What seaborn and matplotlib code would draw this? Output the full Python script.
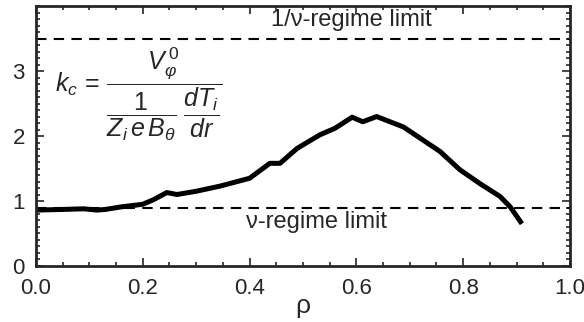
import numpy as np
import pandas as pd
import seaborn as sns
import matplotlib.pyplot as plt
from matplotlib.ticker import MultipleLocator, FormatStrFormatter

# curve
rho = [0.0, 0.05, 0.09, 0.114, 0.13, 0.16, 0.2, 0.22, 0.245, 0.264, 0.3, 0.345,
       0.40, 0.438, 0.457, 0.489, 0.532, 0.56, 0.592, 0.612, 0.638, 0.663,
       0.688, 0.719, 0.757, 0.794, 0.831, 0.869, 0.888, 0.91]
k_c = [0.86, 0.87, 0.88, 0.86, 0.87, 0.91, 0.95, 1.02, 1.13, 1.10, 1.15, 1.23,
       1.35, 1.58, 1.58, 1.81, 2.02, 2.12, 2.29, 2.22, 2.30, 2.22,
       2.14, 1.97, 1.76, 1.48, 1.27, 1.07, 0.91, 0.65]
limit_high = 3.5
limit_low = 0.9
limit_labels = ["1/\u03bd-regime limit", "\u03bd-regime limit"]
y_ticks = [0, 1, 2, 3]

sns.set_style("ticks")
plt.rcParams["font.family"] = ["Liberation Sans Narrow", "Liberation Sans", "DejaVu Sans"]
plt.rcParams["mathtext.fontset"] = "custom"
plt.rcParams["mathtext.it"] = "Liberation Sans:italic"
plt.rcParams["mathtext.rm"] = "Liberation Sans"
plt.rcParams["mathtext.sf"] = "Liberation Sans"

df = pd.DataFrame({"rho": rho, "k_c": k_c})

fig = plt.figure(figsize=(5.84, 3.22), dpi=100)
ax = fig.add_axes([0.0616, 0.174, 0.976 - 0.0616, 0.981 - 0.174])

sns.lineplot(data=df, x="rho", y="k_c", ax=ax, color="black", linewidth=3.6,
             solid_joinstyle="round", solid_capstyle="butt")
for lvl in (limit_high, limit_low):
    ax.axhline(lvl, color="black", linewidth=1.5, linestyle=(0, (5, 3.5)))

ax.text(0.59, 3.62, limit_labels[0], fontsize=17, ha="center", va="bottom")
ax.text(0.525, 0.68, limit_labels[1], fontsize=17, ha="center", va="center")

ax.text(0.035, 2.64,
        r"$k_c\, =\, \dfrac{V_\varphi^{\,0}}{\dfrac{1}{Z_i\, e\, B_\theta}\;\dfrac{dT_i}{dr}}$",
        fontsize=18, ha="left", va="center")

ax.set_xlim(0, 1.0)
ax.set_ylim(0, 4.0)
ax.xaxis.set_major_locator(MultipleLocator(0.2))
ax.xaxis.set_minor_locator(MultipleLocator(0.05))
ax.set_yticks(y_ticks)
ax.yaxis.set_minor_locator(MultipleLocator(0.1))
ax.xaxis.set_major_formatter(FormatStrFormatter("%.1f"))
ax.yaxis.set_major_formatter(FormatStrFormatter("%d"))

ax.tick_params(which="both", direction="in", top=True, right=True, width=1.2,
               labelsize=16)
ax.tick_params(axis="x", which="major", pad=9)
ax.tick_params(axis="y", which="major", pad=8)
ax.tick_params(which="major", length=6)
ax.tick_params(which="minor", length=3)
for s in ax.spines.values():
    s.set_linewidth(2)
    s.set_visible(True)

ax.set_xlabel("\u03c1", fontsize=19, labelpad=-4)
ax.set_ylabel("")

fig.savefig("out.png", dpi=100)
